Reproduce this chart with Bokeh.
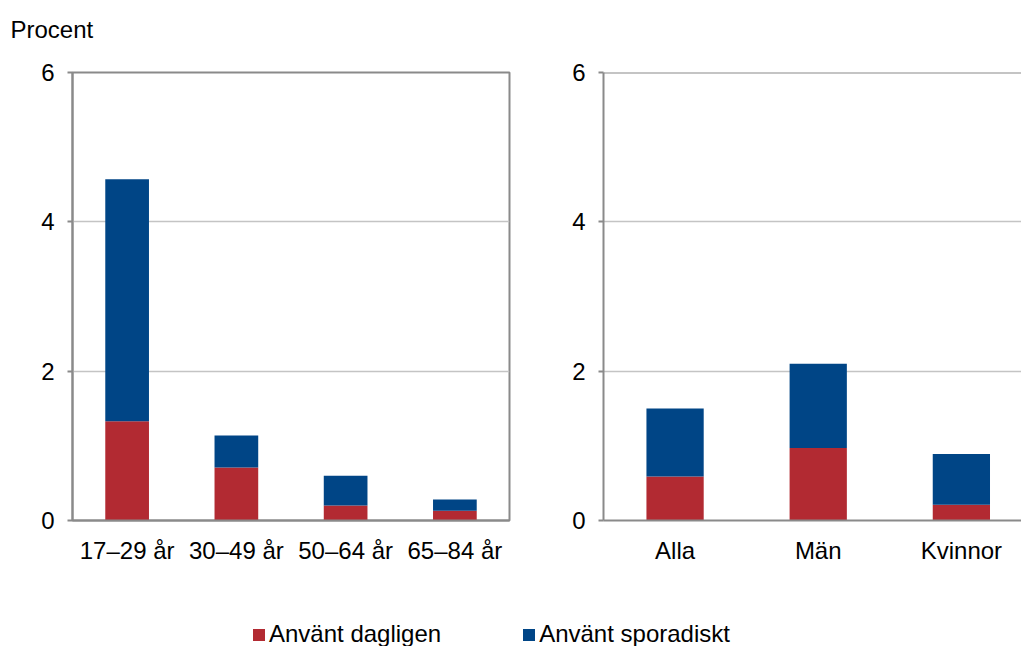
from bokeh.plotting import figure
from bokeh.models import (ColumnDataSource, FactorRange, Range1d, FixedTicker, Span,
                          Label, Legend, LegendItem)
from bokeh.layouts import column, row
from bokeh.embed import file_html
from bokeh.resources import INLINE

# ---- data ----
alder = ["17–29 år", "30–49 år", "50–64 år", "65–84 år"]
alder_dagligen = [1.33, 0.71, 0.20, 0.13]
alder_sporadiskt = [3.24, 0.43, 0.40, 0.15]

kon = ["Alla", "Män", "Kvinnor"]
kon_dagligen = [0.59, 0.97, 0.21]
kon_sporadiskt = [0.91, 1.13, 0.68]

y_ticks = [0, 2, 4, 6]
series_names = ["Använt dagligen", "Använt sporadiskt"]
y_unit = "Procent"

# ---- style ----
RED = "#B22A32"
BLUE = "#004586"
AXIS = "#8a8a8a"
GRID = "#c4c4c4"
FONT = "Liberation Sans"
FS = "24px"


def strip(width, height):
    f = figure(width=width, height=height, x_range=Range1d(0, 1), y_range=Range1d(0, 1),
               output_backend="svg", toolbar_location=None, title=None,
               x_axis_type=None, y_axis_type=None,
               min_border_left=0, min_border_right=0, min_border_top=0, min_border_bottom=0)
    f.outline_line_color = None
    f.xgrid.grid_line_color = None
    f.ygrid.grid_line_color = None
    return f


def style(p):
    p.toolbar_location = None
    for ax in p.yaxis:
        ax.ticker = FixedTicker(ticks=y_ticks)
        ax.axis_line_color = AXIS
        ax.axis_line_width = 2
        ax.major_tick_line_color = AXIS
        ax.major_tick_line_width = 2
        ax.major_tick_out = 5
        ax.major_tick_in = 0
        ax.minor_tick_line_color = None
        ax.major_label_standoff = 13
        ax.major_label_text_font = FONT
        ax.major_label_text_font_size = FS
        ax.major_label_text_color = "#000000"
    for ax in p.xaxis:
        ax.axis_line_color = AXIS
        ax.axis_line_width = 2
        ax.major_tick_line_color = None
        ax.major_tick_out = 0
        ax.major_tick_in = 0
        ax.minor_tick_line_color = None
        ax.major_label_standoff = 16
        ax.major_label_text_font = FONT
        ax.major_label_text_font_size = FS
        ax.major_label_text_color = "#000000"
    p.xgrid.grid_line_color = None
    p.ygrid.ticker = FixedTicker(ticks=y_ticks)
    p.ygrid.grid_line_color = GRID
    p.ygrid.grid_line_width = 1.5
    p.background_fill_color = "white"
    p.border_fill_color = "white"


# ---- top strip with unit label ----
top = strip(1021, 44)
top.add_layout(Label(x=10, y=15, x_units="screen", y_units="screen", text=y_unit,
                     text_font=FONT, text_font_size=FS, text_color="#000000",
                     text_baseline="middle", text_align="left"))

# ---- left chart: age groups ----
src1 = ColumnDataSource(dict(x=alder, dagligen=alder_dagligen, sporadiskt=alder_sporadiskt))
p1 = figure(x_range=FactorRange(factors=alder), y_range=Range1d(0, 6),
            width=550, height=536, output_backend="svg", toolbar_location=None,
            title=None, min_border_left=72, min_border_right=41,
            min_border_top=28, min_border_bottom=60)
p1.vbar_stack(["dagligen", "sporadiskt"], x="x", width=0.4, color=[RED, BLUE],
              line_color=None, source=src1)
style(p1)
p1.outline_line_color = AXIS
p1.outline_line_width = 2

# ---- right chart: total / sex ----
kon_pos = [i + 0.5 for i in range(len(kon))]
src2 = ColumnDataSource(dict(x=kon_pos, dagligen=kon_dagligen, sporadiskt=kon_sporadiskt))
p2 = figure(x_range=Range1d(0, 2.92), y_range=Range1d(0, 6),
            width=471, height=536, output_backend="svg", toolbar_location=None,
            title=None, min_border_left=53, min_border_right=0,
            min_border_top=28, min_border_bottom=60)
p2.vbar_stack(["dagligen", "sporadiskt"], x="x", width=0.4, color=[RED, BLUE],
              line_color=None, source=src2)
style(p2)
p2.xaxis.ticker = FixedTicker(ticks=kon_pos)
p2.xaxis.major_label_overrides = {pos: name for pos, name in zip(kon_pos, kon)}
p2.outline_line_color = None
p2.add_layout(Span(location=6, dimension="width", line_color=AXIS, line_width=2))

# ---- legend strip ----
lf = strip(1021, 66)
r_red = lf.vbar(x=[5], top=[1], width=0.1, color=RED, line_color=None)
r_blue = lf.vbar(x=[5], top=[1], width=0.1, color=BLUE, line_color=None)
leg = Legend(items=[LegendItem(label=series_names[0], renderers=[r_red]),
                    LegendItem(label=series_names[1], renderers=[r_blue])],
             orientation="horizontal", location=(251, -2),
             glyph_width=15, glyph_height=15, label_standoff=3, spacing=80,
             padding=0, margin=0, border_line_color=None, background_fill_alpha=0,
             label_text_font=FONT, label_text_font_size=FS, label_text_color="#000000")
lf.add_layout(leg)

layout = column(top, row(p1, p2), lf)
open("out.html", "w").write(file_html(layout, INLINE))
